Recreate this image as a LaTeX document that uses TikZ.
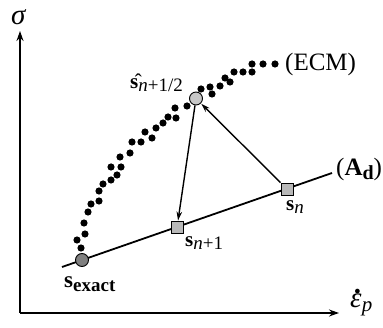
\documentclass[tikz,border=0pt]{standalone}
\usepackage{fontspec}
\setmainfont{Liberation Serif}
\usetikzlibrary{arrows.meta}
\newcommand\dn[2]{\raisebox{-0.3ex}{\fontsize{#1}{#1}\selectfont #2}}
\tikzset{
  lbl/.style={inner sep=0pt, anchor=base west, font=\fontsize{21}{23}\selectfont},
  dotc/.style={circle, fill=black, inner sep=0pt, minimum size=7.2pt},
  sqbox/.style={draw, fill=black!28, minimum size=12pt, inner sep=0pt, line width=0.9pt},
  rbox/.style={circle, draw, inner sep=0pt, minimum size=13pt, line width=0.9pt},
  axisline/.style={line width=1.8pt, -{Stealth[length=10pt,width=7pt]}},
  arr/.style={line width=1.4pt, -{Stealth[length=9pt,width=5.5pt]}, shorten >=0.5pt}
}
\begin{document}
\begin{tikzpicture}[x=1pt,y=-1pt]
\useasboundingbox (0,0) rectangle (383,328);
% axes
\coordinate (O) at (20,313);
\coordinate (ytip) at (20,31);
\coordinate (xtip) at (339,313);
\draw[axisline] (O) -- (ytip);
\draw[axisline] (O) -- (xtip);
\node[lbl, font=\fontsize{29}{31}\selectfont] (sig) at (11,25) {\textit{σ}};
\node[lbl, font=\fontsize{29}{31}\selectfont] (eps) at (350,308) {\textit{ε}\kern-0.27em\raisebox{0.5em}{\textbf{.}}\kern0.03em\dn{21}{\textit{p}}};
% dots (ECM)
\foreach \x/\y [count=\i] in {81/248,77/240,85/234,84/223,88/212,91/204,99/201,99/191,103/184,111/180,117/175,111/167,121/167,120/157,130/153,132/142,141/142,145/132,152/138,156/128,163/123,168/117,176/118,175/108,187/106,201/89,210/87,212/94,220/86,225/78,230/82,234/72,243/72,252/72,252/64,263/64,275/64}
  \node[dotc] (d\i) at (\x,\y) {};
\node[lbl, font=\fontsize{25}{27}\selectfont] (ecm) at (285,71) {(ECM)};
% line A_d
\coordinate (a0) at (62,267);
\coordinate (a1) at (332,173);
\draw[line width=1.8pt] (a0) -- (a1);
\node[lbl, font=\fontsize{25}{27}\selectfont] (ad) at (336,176) {(\textbf{A}\dn{20}{\textbf{d}})};
% states
\node[rbox, fill=black!50] (sex) at (82,260) {};
\node[sqbox] (snp) at (177,227.5) {};
\node[sqbox] (sn) at (287,189) {};
\node[rbox, fill=black!22] (shat) at (196,98.5) {};
% arrows
\draw[arr] (sn) -- (shat);
\draw[arr] (shat) -- (snp);
% labels
\node[lbl, font=\fontsize{23}{25}\selectfont] (lsex) at (64,288) {\textbf{s}\dn{19}{\textbf{exact}}};
\node[lbl] (lsn) at (286,211) {\textbf{s}\dn{19}{\textit{n}}};
\node[lbl] (lsnp) at (185,247) {\textbf{s}\dn{19}{\textit{n}+1}};
\node[lbl] (lshat) at (130,89) {\^{\textbf{s}}\dn{19}{\textit{n}+1/2}};
\end{tikzpicture}
\end{document}
